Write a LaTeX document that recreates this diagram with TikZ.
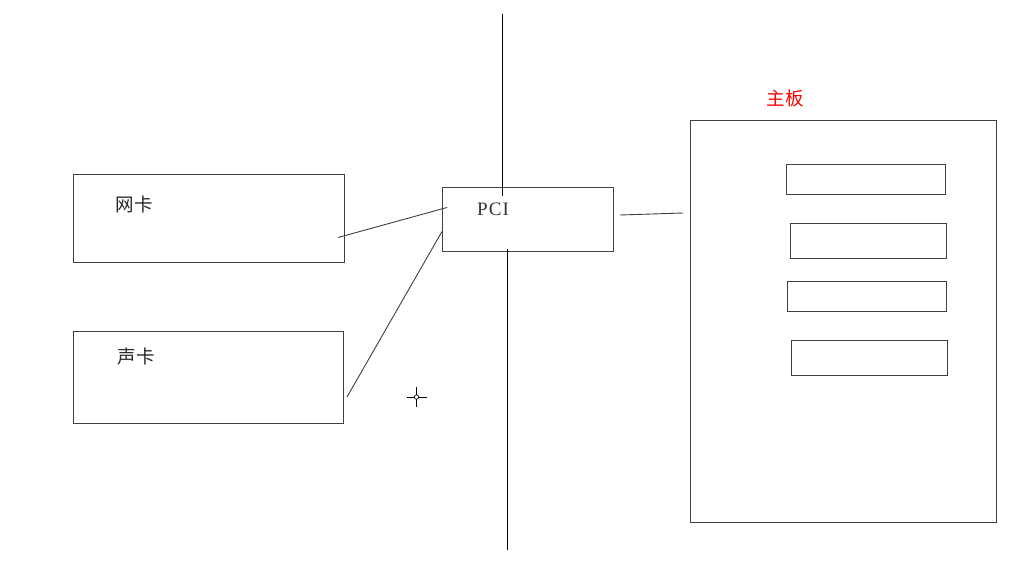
\documentclass[tikz,border=0pt]{standalone}
\usepackage{fontspec}
\newfontfamily\cjk{Noto Sans CJK SC}
\newfontfamily\pcifont[LetterSpace=6]{Liberation Serif}
\begin{document}
\begin{tikzpicture}[x=1pt,y=-1pt,
  box/.style={draw=black!75,line width=0.9pt},
  wire/.style={draw=black!75,line width=0.9pt},
  lbl/.style={font=\cjk\fontsize{18.5}{18.5}\selectfont,inner sep=0pt,text=black!85}]
\useasboundingbox[fill=white] (0,0) rectangle (1029,564);
% boxes
\draw[box] (73,174) rectangle (344,262);
\coordinate (nk) at (338,237.5);
\draw[box] (73,331) rectangle (343,423);
\coordinate (sk) at (347,397);
\draw[box] (442,187) rectangle (613.5,251);
\coordinate (pciA) at (447,207.5);
\coordinate (pciB) at (442,231.5);
\coordinate (pciR) at (620,215);
\draw[box] (690,120) rectangle (996,522);
\coordinate (mbL) at (683,213);
\draw[box] (786,164) rectangle (945,194);
\draw[box] (790,223) rectangle (946,258);
\draw[box] (787,281) rectangle (946,311);
\draw[box] (791,340) rectangle (947,375);
% labels
\node[lbl] (t1) at (134,204) {网卡};
\node[lbl] (t2) at (136,356) {声卡};
\node[lbl,text=red] (t3) at (785,98) {主板};
\node[font=\pcifont\fontsize{19}{19}\selectfont,inner sep=0pt,text=black!80] (tp) at (493,209) {PCI};
% vertical lines
\coordinate (vt1) at (502,14);
\coordinate (vt2) at (502,196);
\coordinate (vb1) at (507.3,249);
\coordinate (vb2) at (507.3,550);
\draw[wire,draw=black] (vt1) -- (vt2);
\draw[wire,draw=black] (vb1) -- (vb2);
% connectors
\draw[wire] (nk) -- (pciA);
\draw[wire] (sk) -- (pciB);
\draw[wire] (pciR) -- (mbL);
% cursor cross
\coordinate (cc) at (416.5,397);
\draw[black,line width=0.8pt] ([xshift=-10pt]cc) -- ([xshift=10pt]cc);
\draw[black,line width=0.8pt] ([yshift=-10pt]cc) -- ([yshift=10pt]cc);
\draw[black,line width=0.7pt,fill=white] (cc) circle (2.2);
\end{tikzpicture}
\end{document}
